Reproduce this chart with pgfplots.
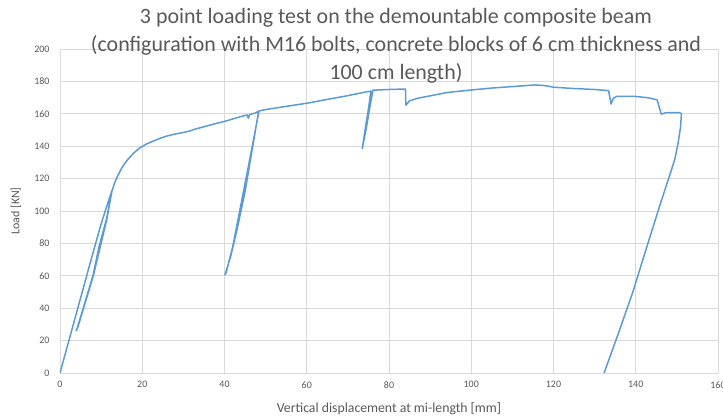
\documentclass[border=0pt]{standalone}
\usepackage{fontspec}
\setmainfont{Carlito}
\usepackage{pgfplots}
\pgfplotsset{compat=1.18}

\definecolor{xlblue}{RGB}{91,155,213}
\definecolor{gridgray}{RGB}{217,217,217}
\definecolor{txtgray}{RGB}{89,89,89}

\begin{document}
\begin{tikzpicture}
\begin{axis}[
  scale only axis,
  width=658bp, height=324bp,
  xmin=0, xmax=160, ymin=0, ymax=200,
  xtick={0,20,...,160}, ytick={0,20,...,200},
  grid=major,
  major grid style={gridgray, line width=0.8pt},
  axis line style={draw=none},
  major tick length=0pt,
  tick pos=left,
  /pgf/number format/assume math mode=true,
  ticklabel style={font=\fontsize{10}{12}\selectfont, text=txtgray},
  xticklabel style={yshift=-5bp},
  yticklabel style={xshift=-7bp},
  xlabel={Vertical displacement at mi-length [mm]},
  ylabel={Load [KN]},
  xlabel style={at={(axis description cs:0.5,-0.111)}, anchor=center,
    font=\fontsize{13.8}{16}\selectfont, text=txtgray},
  ylabel style={at={(axis description cs:-0.067,0.5)}, anchor=center,
    font=\fontsize{12}{14}\selectfont, text=txtgray},
  title={3 point loading test on the demountable composite beam\\(configuration with M16 bolts, concrete blocks of 6 cm thickness and\\100 cm length)},
  title style={at={(axis description cs:0.5,1)}, anchor=center, yshift=-3bp, xshift=7bp,
    align=center, font=\fontsize{22}{28}\selectfont, text=txtgray},
]
\addplot [xlblue, line width=1.5pt, line join=round] coordinates {
(0,0) (2,18.5) (4,37) (6,55.5) (8,74) (10,92) (11.5,104) (12.7,113)
(11.3,95) (9.5,78) (8,60) (6,43) (4.1,27) (3.9,26.2)
(4.3,28) (6.2,44) (8.1,60) (9.7,77) (11.4,95) (12.6,112)
(13.3,117.5) (13.9,121) (15,126.5) (16.2,131) (17.8,135.5) (19.4,139)
(21,141.3) (22.7,143.2) (24.5,145) (26,146.3) (28,147.5) (30,148.5)
(31.5,149.3) (32.5,150.3) (35,152) (37.3,153.6) (40,155.3) (42,156.8)
(44,158.3) (45.5,159.3) (45.8,157.3) (46.1,159.5) (47.5,160.5) (48.3,161.5)
(47,142) (45,112) (43,88) (41.5,72) (40.1,60.5)
(40.4,62) (42,78) (44,104) (46,130) (47.5,150) (48.4,161.8)
(50,162.6) (55,164.6) (60,166.5) (65,168.9) (70,171.2) (73,172.8) (75.6,174)
(75,163) (74.3,152) (73.5,138.5)
(74.4,150) (75.4,165) (76.1,174.6)
(80,175) (84,175.3) (84.1,165.3) (85,168) (87,169.6) (89.8,171) (94.3,173.2)
(100,174.7) (105,175.9) (110,176.8) (115.5,177.8) (118,177.4) (120,176.4)
(125,175.6) (130,175) (133.4,174.3) (134,166) (134.5,169.5) (135.3,170.7)
(140,170.7) (143,169.9) (145.2,168.6) (146.2,159.8) (147.4,160.8) (150.7,160.7)
(151.1,160) (150.9,152) (150.3,142) (149.5,132) (148,120) (146.3,107)
(144.5,92.5) (142.7,78) (141,64) (139.2,49.3) (137.5,37) (135.8,24.6)
(134,12) (132.3,0)
};
\end{axis}
\pgfresetboundingbox
\path[use as bounding box] (-60bp,-45bp) rectangle (663bp,373bp);
\end{tikzpicture}
\end{document}
